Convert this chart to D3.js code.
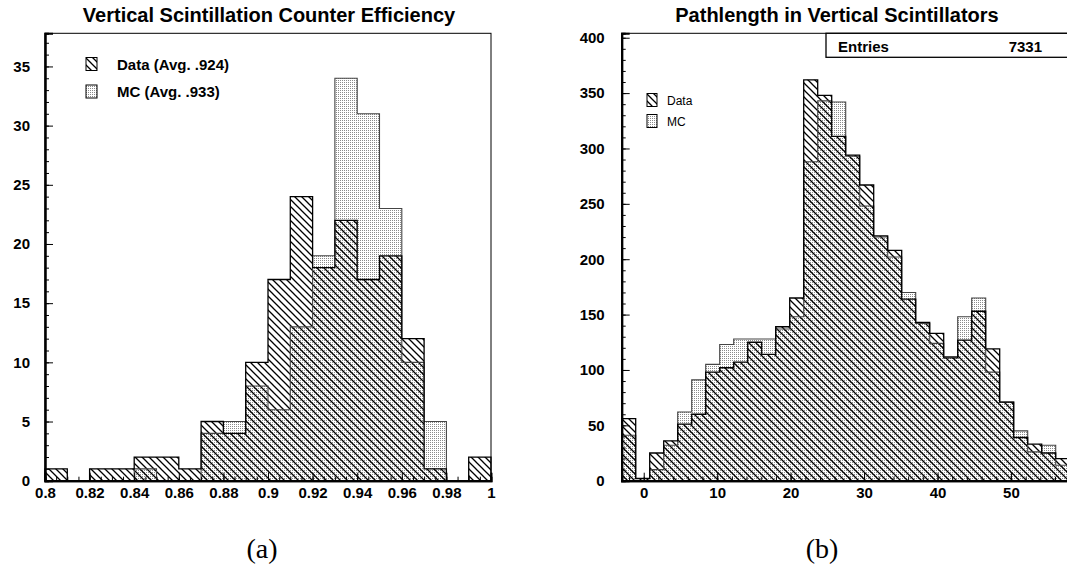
<!DOCTYPE html>
<html><head><meta charset="utf-8">
<script src="https://cdn.jsdelivr.net/npm/d3@7"></script>
<style>
html,body{margin:0;padding:0;background:#fff;}
svg text{font-family:"Liberation Sans",Arial,Helvetica,sans-serif;}
svg text.cap{font-family:"Liberation Serif","DejaVu Serif",serif;}
</style></head>
<body>
<svg id="c" width="1067" height="588"></svg>
<script>
// ---------- Panel (a) data ----------
const effLo = 0.80, effHi = 1.00, effBins = 20;
const effData = [1,0,1,1,2,2,1,5,4,10,17,24,18,22,17,19,12,1,0,2];
const effMC   = [0,0,0,0,1,0,0,4,5,8,6,13,19,34,31,23,10,5,0,0];
const effXTicks = [0.8,0.82,0.84,0.86,0.88,0.9,0.92,0.94,0.96,0.98,1.0];
const effYTicks = [0,5,10,15,20,25,30,35];
const effTitle = "Vertical Scintillation Counter Efficiency";
const effLegend = ["Data (Avg. .924)","MC (Avg. .933)"];

// ---------- Panel (b) data ----------
const pathLo = -3, pathHi = 58, pathBins = 32;
const pathData = [56,2,25,36,51,60,98,102,107,125,114,139,165,362,348,311,294,267,221,208,164,143,133,111,127,153,119,71,39,33,25,20];
const pathMC   = [41,2,10,32,62,91,105,123,128,128,128,137,148,288,343,342,293,248,220,202,170,142,124,112,148,165,98,71,45,26,32,14];
const pathXTicks = [0,10,20,30,40,50];
const pathYTicks = [0,50,100,150,200,250,300,350,400];
const pathTitle = "Pathlength in Vertical Scintillators";
const pathLegend = ["Data","MC"];
const pathEntries = 7331;

const svg = d3.select("#c");
const defs = svg.append("defs");
const hatch = defs.append("pattern").attr("id","hatch").attr("patternUnits","userSpaceOnUse")
  .attr("width",7).attr("height",7);
hatch.append("path").attr("d","M0,0 L7,7 M-1,6 L1,8 M6,-1 L8,1")
  .attr("stroke","#000").attr("stroke-width",1.3).attr("fill","none");
const dots = defs.append("pattern").attr("id","dots").attr("patternUnits","userSpaceOnUse")
  .attr("width",2).attr("height",2);
dots.append("rect").attr("width",2).attr("height",2).attr("fill","#fff");
dots.append("rect").attr("width",1).attr("height",1).attr("fill","#8a8a8a");

function panel(o){
  const g = svg.append("g");
  const x = d3.scaleLinear([o.lo,o.hi],[o.x0,o.x1]);
  const y = d3.scaleLinear([0,o.ymax],[o.yb,o.yt]);
  const w = (o.hi-o.lo)/o.n;
  const edges = d3.range(o.n+1).map(i=>o.lo+i*w);
  const line = d3.line();
  function pts(vals){
    const p=[[x(edges[0]),y(0)]];
    vals.forEach((v,i)=>{p.push([x(edges[i]),y(v)]);p.push([x(edges[i+1]),y(v)]);});
    p.push([x(edges[o.n]),y(0)]);
    return p;
  }
  g.append("path").attr("d",line(pts(o.mc))+"Z").attr("fill","url(#dots)");
  g.append("path").attr("d",line(pts(o.data))+"Z").attr("fill","url(#hatch)");
  g.append("path").attr("d",line(pts(o.mc))).attr("fill","none").attr("stroke","#444").attr("stroke-width",1.1);
  g.append("path").attr("d",line(pts(o.data))).attr("fill","none").attr("stroke","#000").attr("stroke-width",1.3);
  // frame
  g.append("rect").attr("x",o.x0).attr("y",o.yt).attr("width",o.x1-o.x0).attr("height",o.yb-o.yt)
    .attr("fill","none").attr("stroke","#000").attr("stroke-width",1);
  // axes
  const yMinor = g.append("g").attr("transform",`translate(${o.x0},0)`)
    .call(d3.axisLeft(y).tickValues(d3.range(0,o.ymax,o.yminor)).tickSize(-4).tickFormat(""));
  const yMajor = g.append("g").attr("transform",`translate(${o.x0},0)`)
    .call(d3.axisLeft(y).tickValues(o.yticks).tickSize(-8).tickPadding(o.ypad).tickFormat(d3.format("d")));
  const xMinor = g.append("g").attr("transform",`translate(0,${o.yb})`)
    .call(d3.axisBottom(x).tickValues(o.xminorVals).tickSize(-4).tickFormat(""));
  const xMajor = g.append("g").attr("transform",`translate(0,${o.yb})`)
    .call(d3.axisBottom(x).tickValues(o.xticks).tickSize(-8).tickPadding(7).tickFormat(o.xfmt));
  [yMinor,yMajor,xMinor,xMajor].forEach(a=>{
    a.select(".domain").attr("stroke","#000").attr("stroke-width",2);
    a.selectAll(".tick line").attr("stroke","#000").attr("stroke-width",1);
    a.selectAll("text").attr("font-size",15).attr("font-weight","bold").attr("fill","#000");
  });
  g.append("text").attr("x",o.tx).attr("y",22).attr("text-anchor","middle")
    .attr("font-size",20).attr("font-weight","bold").text(o.title);
  return {x,y,g};
}

const A = panel({lo:effLo,hi:effHi,n:effBins,data:effData,mc:effMC,x0:45,x1:491,yb:480.7,yt:33.3,ymax:37.8,
  yticks:effYTicks,yminor:1,ypad:15,xticks:effXTicks,
  xminorVals:d3.range(0,41).map(i=>effLo+i*0.005),
  xfmt:d=>String(+d.toFixed(2)),title:effTitle,tx:269});

const B = panel({lo:pathLo,hi:pathHi,n:pathBins,data:pathData,mc:pathMC,x0:621.7,x1:1069.7,yb:480.7,yt:33.3,ymax:404,
  yticks:pathYTicks,yminor:10,ypad:17,xticks:pathXTicks,
  xminorVals:d3.range(-2,58,2),
  xfmt:d3.format("d"),title:pathTitle,tx:837});

// legend (a)
[[57.5,"url(#hatch)"],[85,"url(#dots)"]].forEach((d,i)=>{
  A.g.append("rect").attr("x",86).attr("y",d[0]).attr("width",11).attr("height",13)
    .attr("fill","#fff").attr("stroke","none");
  A.g.append("rect").attr("x",86).attr("y",d[0]).attr("width",11).attr("height",13)
    .attr("fill",d[1]).attr("stroke","#000").attr("stroke-width",1);
  A.g.append("text").attr("x",117).attr("y",d[0]+12).attr("font-size",15).attr("font-weight","bold").text(effLegend[i]);
});
// legend (b)
[[93.5,"url(#hatch)"],[114.5,"url(#dots)"]].forEach((d,i)=>{
  B.g.append("rect").attr("x",647).attr("y",d[0]).attr("width",10).attr("height",13)
    .attr("fill","#fff");
  B.g.append("rect").attr("x",647).attr("y",d[0]).attr("width",10).attr("height",13)
    .attr("fill",d[1]).attr("stroke","#000").attr("stroke-width",1);
  B.g.append("text").attr("x",667).attr("y",d[0]+11).attr("font-size",12).text(pathLegend[i]);
});
// stats box
B.g.append("rect").attr("x",826).attr("y",33.3).attr("width",260).attr("height",24)
  .attr("fill","#fff").attr("stroke","#000").attr("stroke-width",1.3);
B.g.append("text").attr("x",838).attr("y",51.5).attr("font-size",15).attr("font-weight","bold").text("Entries");
B.g.append("text").attr("x",1042).attr("y",51.5).attr("text-anchor","end").attr("font-size",15).attr("font-weight","bold").text(pathEntries);

// captions
svg.append("text").attr("class","cap").attr("x",262).attr("y",558).attr("text-anchor","middle")
  .attr("font-size",28).text("(a)");
svg.append("text").attr("class","cap").attr("x",822).attr("y",558).attr("text-anchor","middle")
  .attr("font-size",28).text("(b)");
</script>
</body></html>
